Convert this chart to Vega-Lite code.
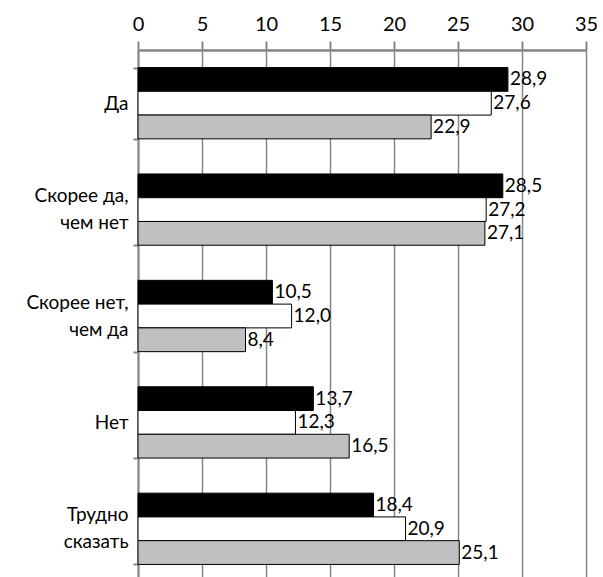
{
  "$schema": "https://vega.github.io/schema/vega-lite/v6.json",
  "width": 448,
  "height": 527,
  "autosize": {"type": "none"},
  "padding": {"left": 138, "top": 50, "right": 17, "bottom": 0},
  "background": "white",
  "config": {
    "view": {"stroke": null},
    "font": "Lato",
    "locale": {"number": {"decimal": ",", "thousands": " ", "grouping": [3], "currency": ["", " ₽"]}}
  },
  "data": {
    "values": [
      {"cat": "Да", "s": "1", "v": 28.9},
      {"cat": "Да", "s": "2", "v": 27.6},
      {"cat": "Да", "s": "3", "v": 22.9},
      {"cat": "Скорее да,|чем нет", "s": "1", "v": 28.5},
      {"cat": "Скорее да,|чем нет", "s": "2", "v": 27.2},
      {"cat": "Скорее да,|чем нет", "s": "3", "v": 27.1},
      {"cat": "Скорее нет,|чем да", "s": "1", "v": 10.5},
      {"cat": "Скорее нет,|чем да", "s": "2", "v": 12.0},
      {"cat": "Скорее нет,|чем да", "s": "3", "v": 8.4},
      {"cat": "Нет", "s": "1", "v": 13.7},
      {"cat": "Нет", "s": "2", "v": 12.3},
      {"cat": "Нет", "s": "3", "v": 16.5},
      {"cat": "Трудно|сказать", "s": "1", "v": 18.4},
      {"cat": "Трудно|сказать", "s": "2", "v": 20.9},
      {"cat": "Трудно|сказать", "s": "3", "v": 25.1}
    ]
  },
  "encoding": {
    "y": {
      "field": "cat", "type": "nominal", "sort": null, "title": null,
      "scale": {"paddingInner": 0.33, "paddingOuter": 0.165, "range": [0, 532]},
      "axis": {
        "labelExpr": "datum.value ? split(datum.value, '|') : ''",
        "labelOffset": {"condition": {"test": "datum.value && indexof(datum.value, '|') >= 0", "value": -14}, "value": 0},
        "labelFontSize": 19, "labelColor": "black", "labelLineHeight": 27,
        "labelPadding": 5, "tickBand": "extent", "tickSize": 5, "tickColor": "#868686", "tickWidth": 2,
        "domainColor": "#868686", "domainWidth": 2
      }
    },
    "yOffset": {"field": "s", "type": "nominal", "scale": {"paddingInner": 0, "paddingOuter": 0}},
    "x": {
      "field": "v", "type": "quantitative", "title": null,
      "scale": {"domain": [0, 35], "nice": false},
      "axis": {
        "orient": "top", "values": [0, 5, 10, 15, 20, 25, 30, 35],
        "labelFlush": false,
        "labelFontSize": 20, "labelColor": "black", "labelPadding": 7,
        "tickSize": 9, "tickColor": "#868686", "tickWidth": 2,
        "domainColor": "#868686", "domainWidth": 2.5,
        "grid": true, "gridColor": "#868686", "gridWidth": 1.5
      }
    }
  },
  "layer": [
    {
      "mark": {"type": "bar", "stroke": "black", "strokeWidth": 1},
      "encoding": {
        "color": {
          "field": "s", "type": "nominal", "legend": null,
          "scale": {"domain": ["1", "2", "3"], "range": ["#000000", "#ffffff", "#c0c0c0"]}
        }
      }
    },
    {
      "mark": {"type": "text", "align": "left", "baseline": "middle", "dx": 2, "fontSize": 19, "color": "black"},
      "encoding": {"text": {"field": "v", "type": "quantitative", "format": ".1f"}}
    }
  ]
}
